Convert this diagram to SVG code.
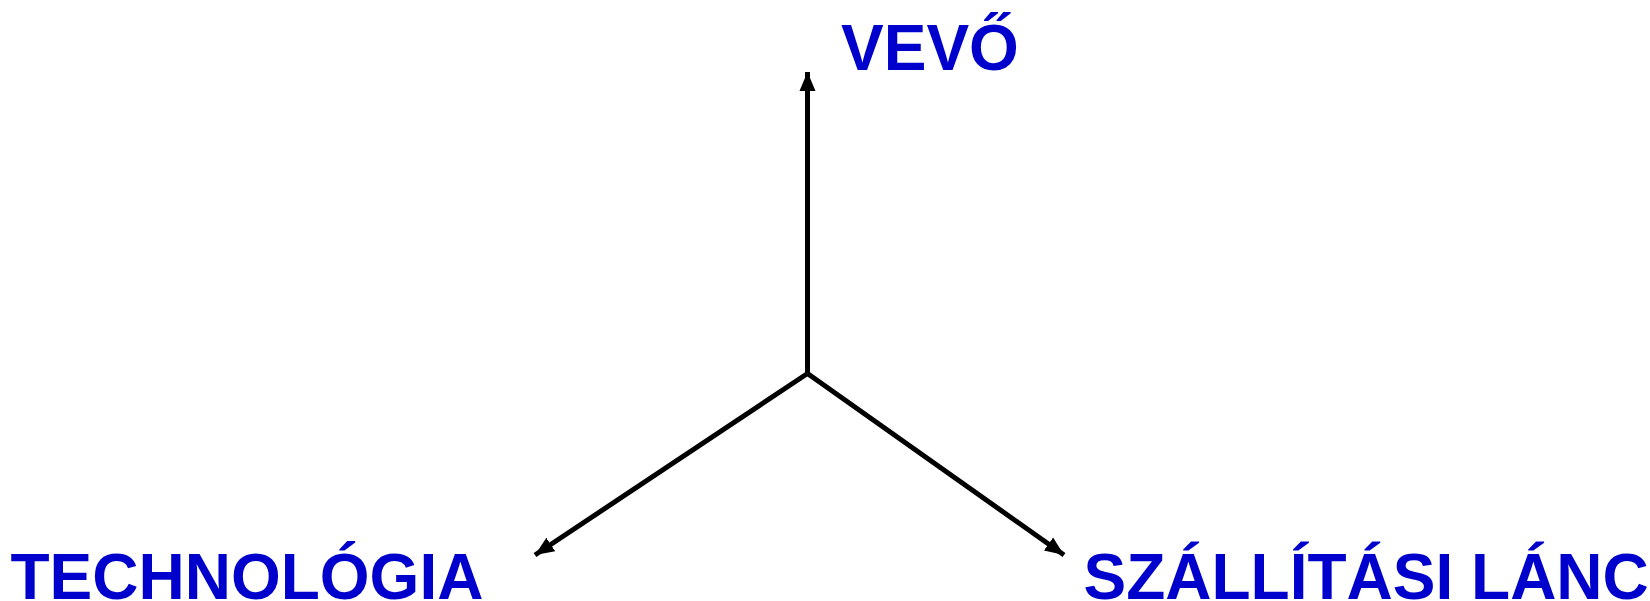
<svg xmlns="http://www.w3.org/2000/svg" width="1650" height="601" viewBox="0 0 1650 601">
<style>
.lbl{font-family:"Liberation Sans",Arial,sans-serif;font-weight:bold;font-size:64px;fill:#0000CC}
.ax{stroke:#000;stroke-width:5;fill:none}
</style>
<defs>
<marker id="ah" markerUnits="userSpaceOnUse" markerWidth="22" markerHeight="20" refX="19" refY="8" orient="auto" viewBox="0 0 22 16">
<path d="M0,0 L19,8 L0,16 Z" fill="#000"/>
</marker>
</defs>
<rect width="1650" height="601" fill="#fff"/>
<g id="connectors">
<line class="ax" x1="807.5" y1="373.5" x2="807.5" y2="72" marker-end="url(#ah)"/>
<line class="ax" x1="807.5" y1="373.5" x2="535" y2="555" marker-end="url(#ah)"/>
<line class="ax" x1="807.5" y1="373.5" x2="1064" y2="555" marker-end="url(#ah)"/>
</g>
<g id="vevo"><text class="lbl" x="841" y="70">VEVŐ</text></g>
<g id="technologia"><text class="lbl" x="10.5" y="599">TECHNOLÓGIA</text></g>
<g id="szallitasi"><text class="lbl" x="1083.5" y="599">SZÁLLÍTÁSI LÁNC</text></g>
</svg>
